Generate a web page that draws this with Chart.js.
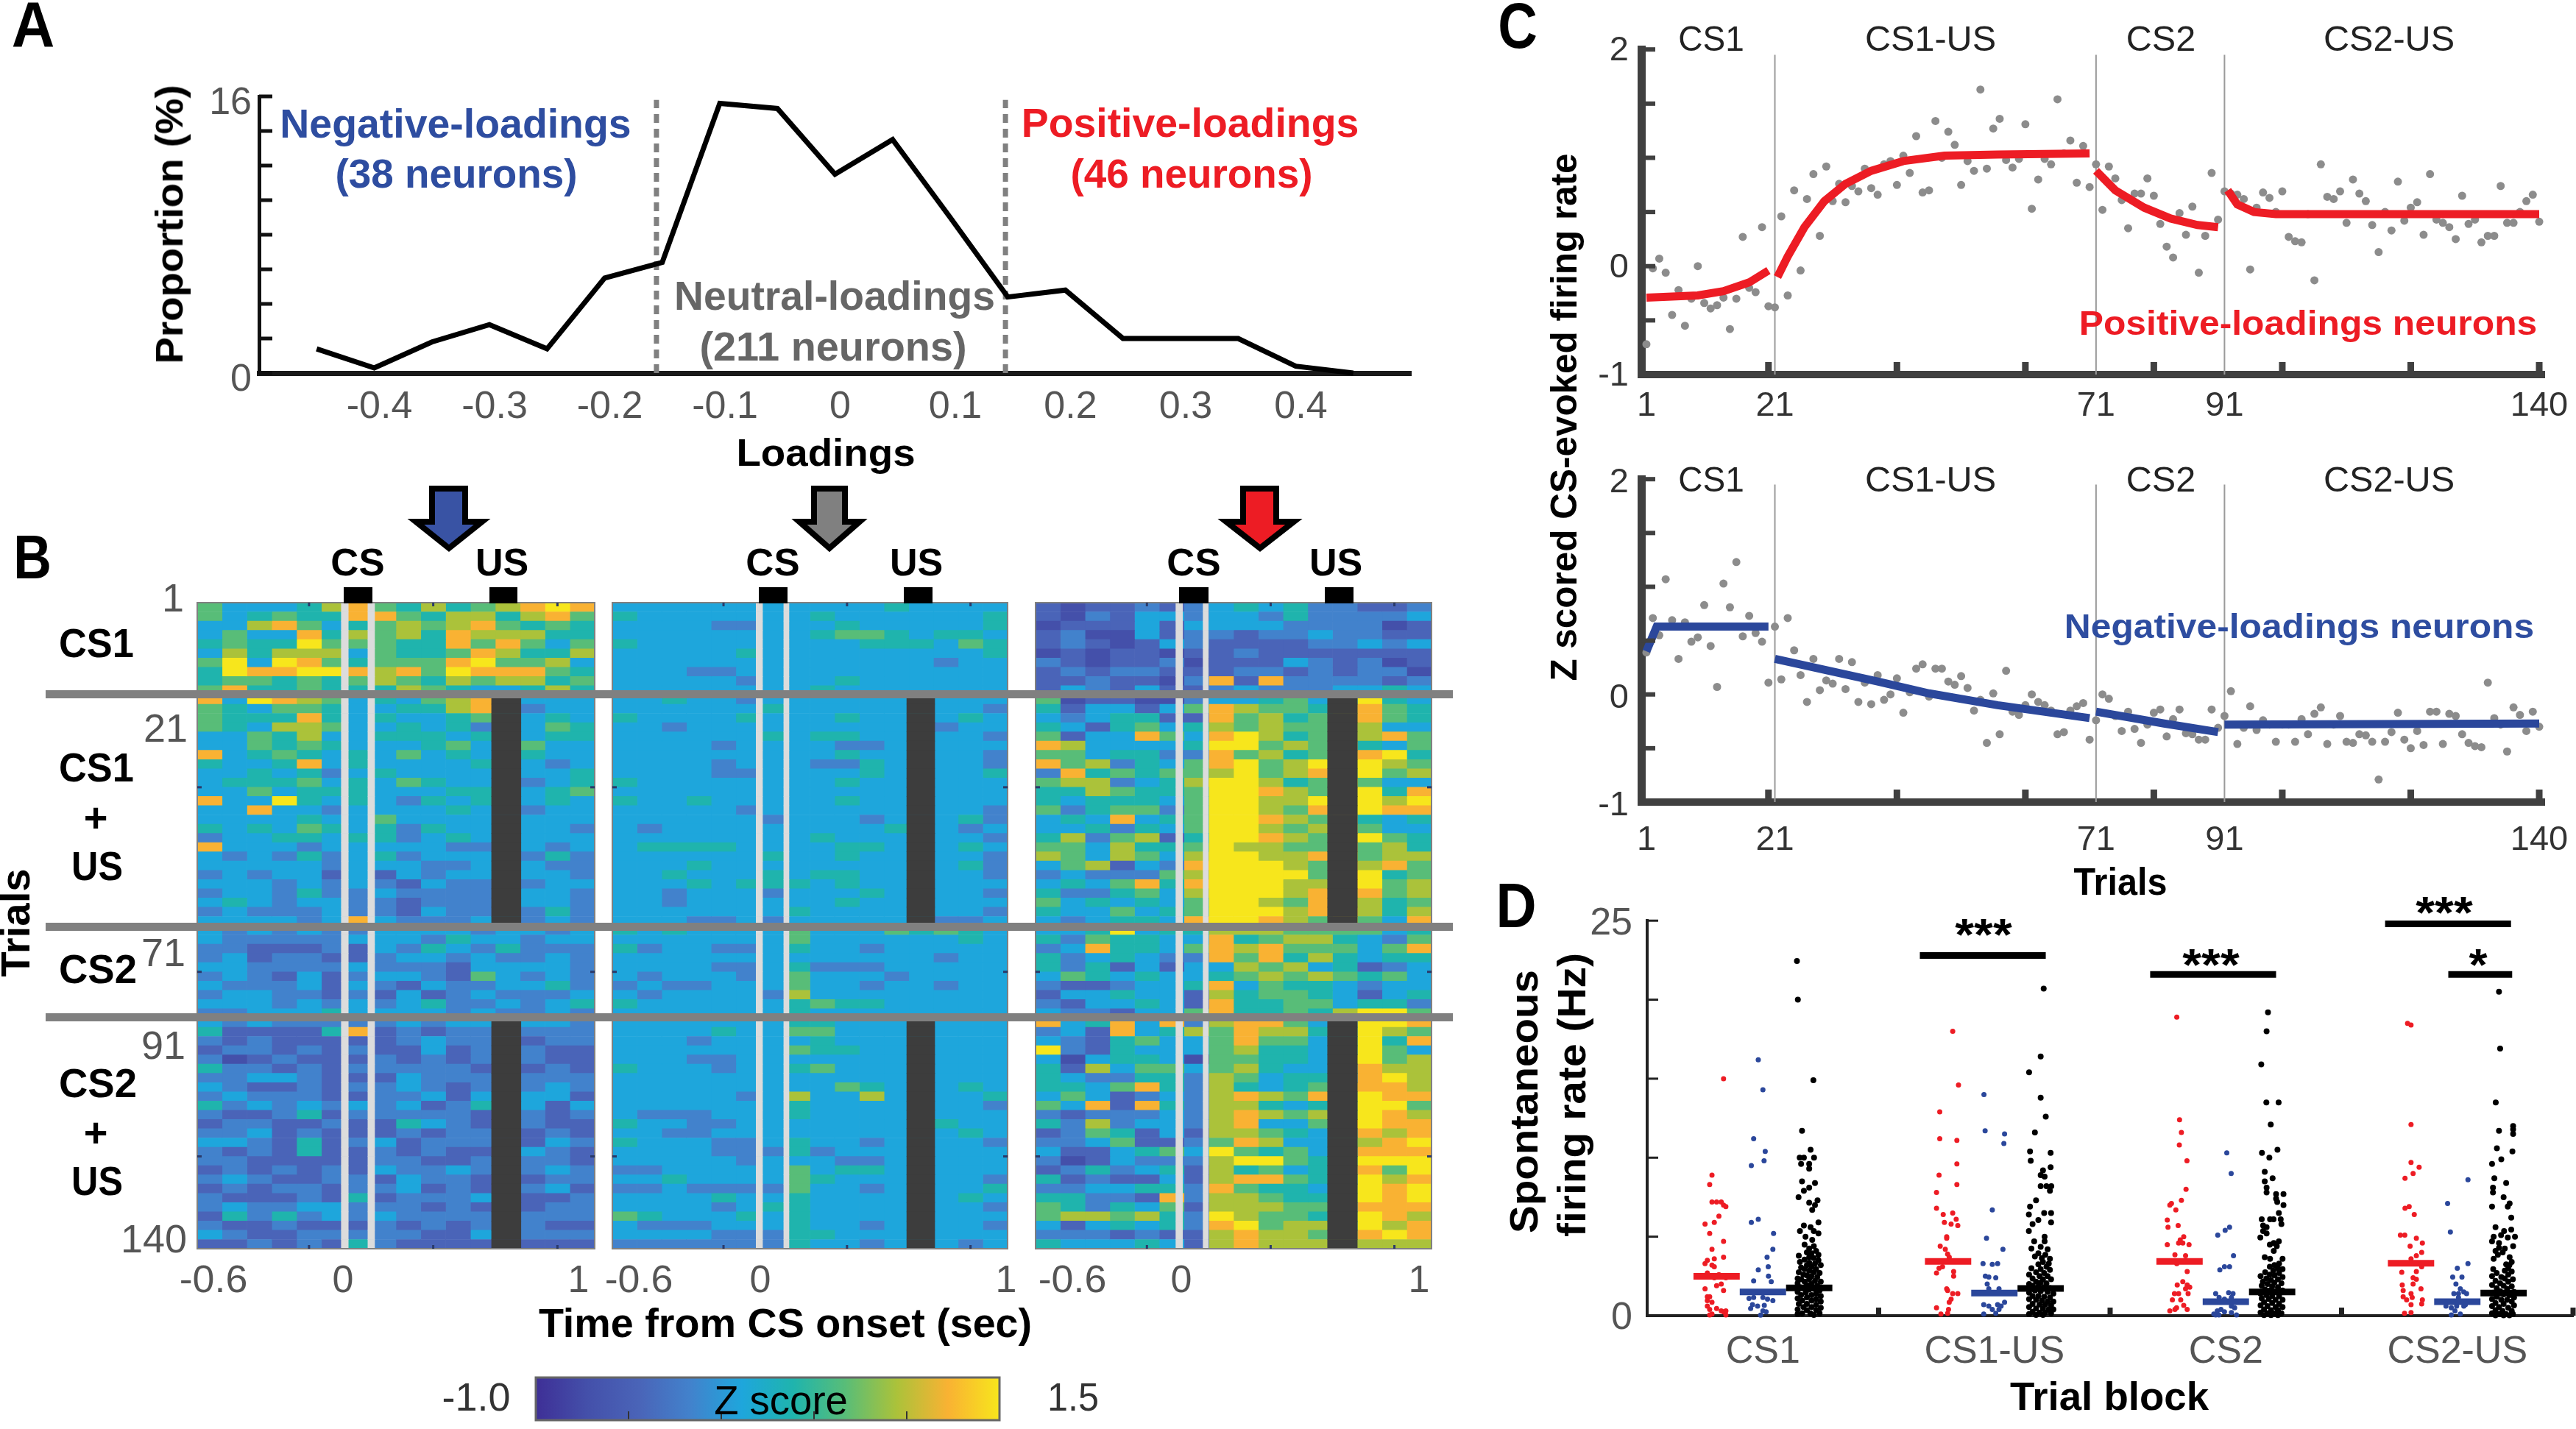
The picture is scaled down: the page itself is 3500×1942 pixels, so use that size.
<!DOCTYPE html>
<html>
<head>
<meta charset="utf-8">
<title>Loadings, trial heatmaps and firing rates</title>
<script src="https://cdn.jsdelivr.net/npm/chart.js@4/dist/chart.umd.min.js"></script>
<style>
  html, body { margin: 0; background: #fff; width: 3500px; height: 1942px; overflow: hidden; position: relative; }
  canvas { position: absolute; }
  .txt { position: absolute; white-space: nowrap; line-height: 1; font-family: "Liberation Sans", Arial, sans-serif; }
  .box { position: absolute; }
  svg { position: absolute; left: 0; top: 0; }
</style>
</head>
<body>
<script>
// Panel A
const loadingBins = [-0.45,-0.4,-0.35,-0.3,-0.25,-0.2,-0.15,-0.1,-0.05,0,0.05,0.1,0.15,0.2,0.25,0.3,0.35,0.4,0.45];
const proportion = [1.4,0.3,1.8,2.8,1.4,5.5,6.4,15.6,15.3,11.5,13.5,9,4.4,4.8,2,2,2,0.4,0];
const loadingTicks = [-0.4,-0.3,-0.2,-0.1,0,0.1,0.2,0.3,0.4];
const loadingCuts = [-0.155,0.148];

// Panel B, one string per two trials, one digit per 0.1 s bin, digit = colour level
const timeBins = [-0.6,-0.5,-0.4,-0.3,-0.2,-0.1,0,0.1,0.2,0.3,0.4,0.5,0.6,0.7,0.8,0.9,1];
const heatNegative = [
"6444578657567898","6456558865775786","4478645676786565","4644857675877755","5655966655868646",
"4757774655687557","6949865666896674","5988998786988865","5665656765767756","6855655576544575",
"8498764546786444","6546654455784344","6555854544565454","6547764454534465","4465744555456455",
"4465654445645644","8456545464544544","5445845444454434","4454534544444445","4555645465445345",
"4464555444554456","8449545435454454","4484434444544344","4444544644444444","5454654535443443",
"3445545534544444","8444344444335434","4343534534444353","4444434443345433","3434424243443443",
"4443434324334344","3443533433334443","4543443323334443","3433343324334353","4444348433344343",
"4343433444434434","4333334443544344","3322232435435333","3423322344343343","4433334333244443",
"3432423443264343","4333424324334453","3443323242343334","4443434345334345","3344454444343343",
"4343333343444443","5222258232333333","3232222234333233","2332323224233322","3123222323232322",
"5332323333323232","3344322243333333","4322323343232343","3433322334243442","5343434342353424",
"3223523333322323","2332232254322322","3342322232333232","4432523423333243","3232522323223432",
"3322222332234332","2323232433433343","3432233243323233","2323323342323342","3222325233343223",
"3433443332323233","2535343433332333","3223222323232322","4322333332243333","2232325322222222"];
const heatNeutral = [
"4444444444454444","5444444454444445","4444334445444445","4444444456654554","5444444444555465",
"4444454444444445","4444444444444344","4443344444444444","4444434445444444","4444444454444444",
"4454434444444444","4444445444444443","5444454445445454","4434444444444344","4444445455444443",
"4444344443344444","4444444445444443","4444344433544443","4444334444544445","5444444445444444",
"4444444444443444","5445444445444444","4444434444445443","4444443444344453","4344444444455434",
"4444444454445443","4555544445544454","4444445445444443","4445444444444453","4454445455444443",
"4445455545444444","4434443444544443","4434444445444444","4444444544444443","4443343444444334",
"5454444644465654","4444444644444454","5344334544344444","4444444444444344","4444334533344444",
"4344434644434444","3433444644344344","4344443744444444","5444444565544444","4444444544444444",
"4444444554444444","4444544664445444","4443444454444444","4444444655444444","4443344444443444",
"5444344564444444","4444444444444444","4444444446544454","4444434744744445","4444444544445443",
"4333444544444444","5443344444445544","4433444444444454","5444334544344443","4444333534444444",
"4444434443344444","3344444645544444","4454444654444443","3343333644344445","4444544544444454",
"4444345544444443","6544454544444444","4333444544344443","4444333554444444","3333333544344434"];
const heatPositive = [
"2122323454533223","2132443443533334","1222424444333312","2311423323343322","2321243222233434",
"1212212232222222","3212231222432312","2323322233232331","2232213828333323","2432422343334454",
"6122113445644954","5244246876657865","4345522867567865","5425645767667744","6244864897567786",
"8744445996768546","6645533867567895","8673546896797976","3856566796786967","6773457997569644",
"5576556998767958","5455546997797979","6356636997687988","4548456998768545","4453546997678644",
"5736725998767965","6647556977668675","7647647997789677","4672438999768786","3433367999968956",
"4546858999778967","5335647999787867","6454546997687756","5446456999788757","4345548998769648",
"4459455777666645","5365544856775436","3485546878666468","5345433868575455","5352424476745234",
"4654544567676564","3223445846554344","2445442756654245","3244542855664553","4332446855657996",
"8458483788644998","3428457687755976","4325644686645958","9325444675545964","4145541665547967",
"5274664675445877","5433553764554897","5546853754567887","4642343787686988","6482853775456996",
"3233343787676987","5373443784468988","2365242776545878","3346223687446789","4224564965645888",
"3124333799655999","2353452756456869","5232242788654978","3344553865546989","5533283776556989",
"6535462777665888","6776753976656987","4245453896775978","3332322787766898","5444542787777777"];
const zLevels = ['#3e2f96','#4450aa','#4a64b8','#4282cc','#1ea6dc','#1fb4ad','#58bd78','#abc23a','#f9b233','#f7e61c'];
const csStrips = [[[-0.02,0.008],[0.087,0.114]],[[-0.018,0.008],[0.094,0.115]],[[-0.033,-0.006],[0.077,0.098]]];
const usBlanks = [[0.585,0.703],[0.592,0.705],[0.58,0.70]];
const zRange = [-1,1.5];
const zMarks = [-0.5,0,0.5,1];
const heatTimeMarks = [-0.15,0.35,0.85];
const heatRowMarks = [19.5,39.5,59.5];  // trials 40, 80, 120 as row positions

// Panel C
const trialTicks = [1,21,71,91,140];
const trialMarks = [20,40,60,80,100,120,140];
const blockEdges = [21,71,91];
const posTrials = [-.72,-.02,.07,-.06,-.45,-.22,-.55,-.30,0,-.34,-.39,-.36,-.29,-.58,-.30,.27,-.2,-.24,.36,-.37,
-.38,.46,-.27,.70,-.04,.62,.85,.28,.92,.60,.76,.59,.74,.69,.90,.72,.66,.94,.97,.75,
1.02,.86,1.20,.68,.70,1.34,1.0,1.24,1.12,.75,.97,.88,1.63,.90,1.27,1.36,.98,.91,.99,1.31,
.53,.80,.99,.94,1.54,1.04,1.16,.77,1.11,.73,.94,.52,.92,.81,.61,.35,.67,.67,.81,.65,
.39,.18,.08,.49,.29,.55,-.06,.28,.86,.43,.69,.67,.66,.62,-.03,.54,.68,.63,.50,.69,
.27,.23,.22,.48,-.13,.94,.64,.62,.69,.40,.80,.67,.60,.38,.13,.50,.33,.78,.42,.54,
.59,.29,.85,.43,.40,.36,.25,.65,.39,.43,.22,.28,.28,.74,.40,.40,.50,.60,.66,.41];
const negTrials = [.39,.71,.55,1.07,.69,.33,.67,.49,.53,.83,.45,.07,1.03,.81,1.23,.54,.73,.57,.49,.11,
.63,.14,.71,.41,.18,-.07,.33,.04,.13,.10,.33,.05,.30,-.07,.11,-.09,.18,-.05,0,.15,
-.17,.02,.24,.28,-.02,.24,.24,.12,.09,.17,.06,-.15,-.05,-.45,.01,-.37,.22,-.16,-.19,-.10,
0,-.07,-.10,-.15,-.37,-.35,-.15,-.11,-.08,-.42,-.24,0,-.04,-.20,-.34,-.16,-.32,-.45,-.28,-.17,
-.14,-.39,-.23,-.14,-.36,-.37,-.42,-.42,-.14,-.31,-.20,.03,-.46,-.31,-.11,-.33,-.24,-.28,-.44,-.28,
-.28,-.44,-.23,-.37,-.18,-.12,-.46,-.28,-.20,-.44,-.45,-.37,-.38,-.44,-.79,-.44,-.35,-.17,-.42,-.50,
-.34,-.47,-.16,-.16,-.46,-.18,-.20,-.37,-.45,-.48,-.49,.11,-.22,-.28,-.53,-.12,-.19,-.34,-.16,-.30];
const posFit = [
  [[1,-.29],[9,-.27],[13,-.23],[17,-.15],[20,-.04]],
  [[21.4,-.10],[23,.09],[25.6,.36],[28.7,.60],[32,.76],[36,.88],[41,.97],[47.4,1.02],[55.7,1.03],[70,1.04]],
  [[71,.88],[74,.70],[78.5,.54],[82.6,.44],[86.8,.38],[90,.36]],
  [[91.5,.70],[93,.57],[95.6,.50],[99,.48],[140,.48]]];
const negFit = [
  [[1,.40],[2.6,.63],[20,.63]],
  [[21,.33],[37,.12],[45,.01],[55.7,-.10],[70,-.22]],
  [[71,-.16],[81.6,-.27],[90,-.35]],
  [[91,-.28],[140,-.27]]];

// Panel D
const blockNames = ['CS1','CS1-US','CS2','CS2-US'];
const blockCentres = [0.5,1.5,2.5,3.5];
const meanPositive = [2.49,3.43,3.43,3.32];
const meanNegative = [1.5,1.43,.88,.88];
const meanNeutral = [1.76,1.72,1.5,1.43];
const sigBars = [[1.178,1.722,22.8],[2.173,2.717,21.6],[3.188,3.732,24.8],[3.461,3.737,21.6]];
const ratesPositive = [
[.28,8.9],[.27,8.3],[.28,7.2],[.30,7.2],[.32,7.2],[.33,7.0],[.34,6.9],[.31,6.3],[.25,5.8],[.29,5.9],[.27,5.2],[.33,4.7],[.28,4.2],[.33,3.7],[.29,3.6],[.26,3.5],[.25,3.3],[.28,3.2],[.29,3.1],[.33,15],[.26,2.7],[.31,2.6],[.36,2.5],[.23,2.5],[.29,2.4],[.34,2.4],[.32,2],[.30,1.9],[.33,1.6],[.25,1.7],[.26,1.2],[.27,1.2],[.26,.95],[.28,.85],[.26,.6],[.27,.4],[.30,.45],[.32,.3],[.34,.3],[.28,.1],[.27,.05],[.34,.05],[.33,.25],
[1.32,18],[1.345,14.6],[1.264,12.9],[1.264,11.2],[1.338,11.1],[1.338,9.6],[1.261,8.9],[1.338,8.3],[1.25,7.8],[1.25,6.8],[1.279,6.4],[1.32,6.5],[1.335,6.1],[1.284,5.9],[1.313,5.8],[1.342,5.7],[1.294,5],[1.294,4.9],[1.266,4.4],[1.288,4.2],[1.298,3.9],[1.305,3.7],[1.276,3.1],[1.261,3],[1.25,2.7],[1.324,2.8],[1.324,2.5],[1.294,1.7],[1.298,1.6],[1.342,1.4],[1.32,1.4],[1.313,1.05],[1.305,.85],[1.25,.5],[1.302,.4],[1.269,.1],[1.298,.15],
[2.288,18.9],[2.30,12.4],[2.308,11.6],[2.299,10.8],[2.332,9.8],[2.328,8],[2.308,7.3],[2.265,7.1],[2.258,7],[2.284,6.7],[2.247,6.05],[2.25,5.6],[2.294,5.7],[2.318,5],[2.303,4.8],[2.296,4.6],[2.314,4.6],[2.341,4.5],[2.247,4.5],[2.28,3.85],[2.326,3.8],[2.288,3.3],[2.333,2.8],[2.314,2.15],[2.333,1.95],[2.29,1.95],[2.344,1.8],[2.326,1.7],[2.278,1.4],[2.296,1.4],[2.337,1.4],[2.269,1],[2.305,1],[2.287,.5],[2.318,.65],[2.333,.4],[2.258,.3],[2.28,.4],
[3.285,18.5],[3.30,18.4],[3.30,12.1],[3.30,9.7],[3.335,9.4],[3.309,9],[3.274,8.7],[3.292,6.9],[3.274,6.8],[3.314,6.4],[3.254,5.1],[3.273,5.1],[3.323,4.9],[3.349,4.6],[3.296,4.4],[3.346,4],[3.323,3.8],[3.30,3.6],[3.26,2.75],[3.309,2.4],[3.323,2.3],[3.309,2],[3.262,1.95],[3.266,1.6],[3.343,1.7],[3.30,1.4],[3.349,1],[3.305,1.15],[3.266,1.2],[3.281,1],[3.30,.7],[3.346,.75],[3.272,.15],[3.30,.2],[3.346,3.1],[3.323,2.8]];
const ratesNegative = [
[.48,16.2],[.50,14.3],[.46,11.2],[.51,10.4],[.505,9.8],[.45,9.5],[.48,6.1],[.45,5.9],[.546,5.2],[.543,4.2],[.518,3.7],[.523,3.1],[.48,2.9],[.524,2.5],[.46,2.2],[.536,2.15],[.44,1.1],[.46,1.15],[.50,1.15],[.52,1.05],[.543,.95],[.455,.7],[.477,.6],[.506,.65],[.447,.45],[.50,.3],[.49,.03],[.514,.25],
[1.455,14],[1.46,11.7],[1.544,11.5],[1.541,10.9],[1.491,6.7],[1.466,4.9],[1.537,4.2],[1.451,3.3],[1.491,3.25],[1.514,3.3],[1.461,2.5],[1.476,2.45],[1.506,2.4],[1.469,2],[1.476,1.7],[1.52,1.7],[1.454,.7],[1.476,.6],[1.514,.7],[1.544,.85],[1.491,.4],[1.52,.4],[1.454,.1],[1.506,.15],[1.529,.6],
[2.504,10.3],[2.523,9],[2.516,5.6],[2.497,5.4],[2.465,5.1],[2.533,3.8],[2.516,3.1],[2.494,3.1],[2.474,2.9],[2.456,1.4],[2.512,1.45],[2.531,1.4],[2.471,1.15],[2.524,1.15],[2.494,1.05],[2.538,.5],[2.524,.2],[2.448,.1],[2.463,.3],[2.479,.4],[2.546,.05],[2.456,.05],[2.47,.05],[2.494,.25],[2.524,.6],
[3.546,8.6],[3.458,7.1],[3.47,5.3],[3.546,3.3],[3.5,3],[3.48,2.45],[3.52,2.45],[3.494,2],[3.513,1.7],[3.485,1.4],[3.528,1.5],[3.54,1.4],[3.505,1.4],[3.505,1.15],[3.451,.6],[3.474,.5],[3.497,.6],[3.528,.6],[3.49,.3],[3.513,.1],[3.474,.05],[3.535,.7]];
const ratesNeutral = [
[.647,22.45],[.651,20],[.718,14.9],[.669,11.7],[.706,10.5],[.659,10],[.677,10],[.721,10],[.665,9.6],[.70,9.6],[.70,9.3],[.669,8.5],[.725,8.4],[.70,8.1],[.677,7.9],[.654,7.5],[.736,7.3],[.70,7.15],[.725,7],[.713,6.7],[.74,5.9],[.677,5.7],[.706,5.6],[.72,5.35],[.66,5.35],[.74,5.2],[.684,5],[.713,4.8],
[.68,4.5],[.72,4.4],[.70,4.25],[.73,4.1],[.69,4],[.71,3.95],[.74,3.85],[.655,3.8],[.70,3.7],[.72,3.65],[.68,3.55],[.74,3.5],[.66,3.4],[.70,3.35],[.725,3.3],[.69,3.2],[.75,3.2],[.71,3.1],[.665,3.05],[.68,2.95],[.73,2.95],[.70,2.85],[.655,2.75],[.72,2.75],[.745,2.7],[.675,2.6],[.69,2.55],[.71,2.5],[.735,2.45],[.65,2.35],[.665,2.3],[.70,2.3],[.725,2.2],[.68,2.15],[.75,2.15],[.65,2.05],[.71,2],[.69,1.95],[.735,1.9],[.66,1.8],[.675,1.75],[.72,1.7],[.70,1.65],[.745,1.6],[.65,1.5],[.685,1.45],[.73,1.4],[.665,1.3],[.71,1.3],[.75,1.25],[.69,1.15],[.65,1.1],[.73,1.05],[.67,.95],[.71,.95],[.75,.9],[.655,.75],[.69,.75],[.73,.7],[.675,.55],[.71,.55],[.75,.5],[.65,.4],[.69,.35],[.73,.35],[.67,.15],[.705,.15],[.745,.15],[.65,.1],[.72,.05],
[1.713,20.7],[1.70,16.4],[1.65,15.4],[1.70,13.8],[1.722,12.6],[1.675,11.6],[1.654,10.4],[1.743,10.3],[1.657,9.8],[1.743,9.4],[1.71,9.2],[1.717,8.8],[1.70,8.9],[1.725,8.2],[1.70,8.2],[1.746,8.2],[1.74,7.9],[1.68,7.3],[1.654,6.9],[1.715,6.5],[1.745,6.5],[1.649,6.4],[1.69,6.05],[1.745,5.9],[1.665,5.8],[1.649,5.35],[1.717,5],[1.672,4.7],[1.717,4.7],
[1.66,4.25],[1.70,4.35],[1.73,4.2],[1.69,3.95],[1.72,3.85],[1.675,3.75],[1.705,3.65],[1.74,3.6],[1.71,3.4],[1.735,3.3],[1.69,3.25],[1.725,3.1],[1.66,3],[1.70,2.95],[1.74,2.9],[1.68,2.75],[1.715,2.7],[1.65,2.6],[1.695,2.5],[1.73,2.5],[1.665,2.35],[1.71,2.3],[1.745,2.3],[1.68,2.15],[1.70,2.1],[1.725,2.05],[1.65,2],[1.665,1.9],[1.69,1.85],[1.715,1.8],[1.74,1.75],[1.675,1.6],[1.70,1.55],[1.73,1.5],[1.65,1.45],[1.755,1.4],[1.665,1.25],[1.69,1.25],[1.715,1.2],[1.74,1.15],[1.65,1.05],[1.68,1],[1.705,.95],[1.73,.9],[1.755,.9],[1.665,.75],[1.695,.7],[1.72,.7],[1.745,.65],[1.65,.55],[1.68,.45],[1.71,.45],[1.735,.4],[1.755,.4],[1.665,.25],[1.695,.2],[1.72,.2],[1.745,.15],[1.65,.1],[1.68,.05],[1.71,.05],
[2.682,19.2],[2.676,18],[2.653,15.9],[2.675,13.5],[2.728,13.5],[2.694,12.1],[2.723,10.5],[2.656,10.3],[2.688,10],[2.668,9.1],[2.702,8.7],[2.668,8.5],[2.676,8.1],[2.676,7.8],[2.717,7.7],[2.749,7.7],[2.717,7.4],[2.722,7.2],[2.749,7],[2.729,6.5],[2.655,6.1],[2.691,6.1],[2.706,6.1],[2.737,6.1],[2.74,5.8],[2.661,5.7],[2.676,5.6],[2.661,5.35],[2.676,5.2],[2.649,4.95],[2.729,4.7],[2.707,4.6],[2.69,4.5],[2.72,4.4],[2.707,4.1],[2.668,3.7],[2.691,3.6],[2.745,3.6],
[2.73,3.3],[2.71,3.2],[2.69,3.1],[2.725,3],[2.745,2.95],[2.705,2.85],[2.67,2.75],[2.73,2.7],[2.69,2.6],[2.71,2.55],[2.65,2.5],[2.745,2.45],[2.675,2.35],[2.725,2.3],[2.695,2.25],[2.66,2.15],[2.71,2.1],[2.74,2.05],[2.68,2],[2.655,1.9],[2.70,1.85],[2.725,1.8],[2.67,1.65],[2.69,1.6],[2.745,1.6],[2.715,1.5],[2.65,1.4],[2.675,1.3],[2.70,1.25],[2.73,1.25],[2.655,1.1],[2.685,1.05],[2.715,1],[2.745,1],[2.665,.85],[2.70,.8],[2.73,.75],[2.65,.65],[2.68,.6],[2.715,.55],[2.745,.55],[2.665,.4],[2.695,.35],[2.725,.35],[2.65,.2],[2.68,.15],[2.71,.15],[2.74,.15],[2.665,.03],[2.695,.03],[2.725,.03],
[3.68,20.5],[3.685,16.9],[3.666,13.5],[3.741,12],[3.741,11.8],[3.68,11.7],[3.741,11.5],[3.671,10.6],[3.738,10.4],[3.69,9.9],[3.65,9.6],[3.66,8.7],[3.711,8.4],[3.654,8.1],[3.654,7.8],[3.70,7.5],[3.726,7.1],[3.65,6.9],[3.718,6.9],[3.733,6.2],[3.665,5.6],[3.733,5.45],[3.702,5.35],[3.657,5],[3.689,5.1],[3.718,4.95],[3.749,5],[3.65,4.7],[3.68,4.6],[3.741,4.4],[3.665,4.1],[3.696,4],[3.657,3.6],[3.726,3.7],[3.711,3.25],
[3.68,4.3],[3.705,4.25],[3.675,3.85],[3.735,3.4],[3.725,3.2],[3.72,3],[3.655,2.95],[3.705,2.85],[3.735,2.8],[3.67,2.7],[3.72,2.6],[3.65,2.5],[3.69,2.45],[3.705,2.35],[3.74,2.3],[3.665,2.2],[3.72,2.15],[3.685,2.05],[3.65,1.95],[3.70,1.9],[3.735,1.85],[3.67,1.75],[3.715,1.7],[3.685,1.55],[3.745,1.5],[3.655,1.45],[3.70,1.35],[3.725,1.3],[3.67,1.2],[3.745,1.15],[3.65,1.05],[3.69,1],[3.715,1],[3.735,.9],[3.665,.8],[3.70,.75],[3.745,.65],[3.65,.6],[3.68,.55],[3.72,.5],[3.665,.35],[3.695,.3],[3.735,.3],[3.65,.15],[3.68,.1],[3.71,.1],[3.74,.1],[3.665,.02],[3.70,.02],[3.725,.02]];

// small helpers -------------------------------------------------
const FONT = '"Liberation Sans", Arial, sans-serif';

function label(text, cx, cy, o) {
    o = o || {};
    let el = document.createElement('div');
    el.className = 'txt';
    el.textContent = text;
    el.style.left = cx + 'px';
    el.style.top = cy + 'px';
    el.style.fontSize = (o.size || 50) + 'px';
    el.style.fontWeight = o.bold ? 'bold' : 'normal';
    el.style.color = o.color || '#000';
    document.body.appendChild(el);
    let sx = o.w ? o.w / el.offsetWidth : 1;
    el.style.transform = `translate(-50%,-50%) rotate(${o.rot || 0}deg) scaleX(${sx})`;
    return el;
}

function box(x0, y0, x1, y1, color) {
    let el = document.createElement('div');
    el.className = 'box';
    el.style.cssText = `left:${x0}px;top:${y0}px;width:${x1 - x0}px;height:${y1 - y0}px;background:${color}`;
    document.body.appendChild(el);
}

// canvas whose chart area lands exactly on the given rectangle
function place(l, t, r, b, m) {
    let c = document.createElement('canvas');
    c.width = r - l + m.left + m.right;
    c.height = b - t + m.top + m.bottom;
    c.style.left = (l - m.left) + 'px';
    c.style.top = (t - m.top) + 'px';
    document.body.appendChild(c);
    return c;
}

const axisMarks = {
    id: 'axisMarks',
    afterDatasetsDraw(chart, args, o) {
        let ctx = chart.ctx, a = chart.chartArea;
        ctx.save();
        ctx.fillStyle = o.color || '#000';
        (o.x || []).forEach(v => {
            let p = chart.scales.x.getPixelForValue(v);
            ctx.fillRect(p - o.xw / 2, a.bottom - o.xlen, o.xw, o.xlen);
        });
        (o.y || []).forEach(v => {
            let p = chart.scales.y.getPixelForValue(v);
            ctx.fillRect(a.left, p - o.yw / 2, o.ylen, o.yw);
        });
        if (o.frame) {
            ctx.strokeStyle = o.frame;
            ctx.lineWidth = o.frameWidth || 2;
            ctx.strokeRect(a.left, a.top, a.right - a.left, a.bottom - a.top);
        }
        // tiny marks on all four sides of the heatmaps
        ctx.fillStyle = '#2a3a6a';
        (o.edgeX || []).forEach(v => {
            let p = chart.scales.x.getPixelForValue(v);
            ctx.fillRect(p - 1.5, a.top, 3, 5);
            ctx.fillRect(p - 1.5, a.bottom - 5, 3, 5);
        });
        (o.edgeY || []).forEach(v => {
            let p = chart.scales.y.getPixelForValue(v);
            ctx.fillRect(a.left, p - 1.5, 6, 3);
            ctx.fillRect(a.right - 6, p - 1.5, 6, 3);
        });
        ctx.restore();
    }
};
Chart.register(axisMarks);
Chart.defaults.font.family = FONT;
Chart.defaults.animation = false;

// the y axis box fills the left margin and the x axis box the bottom margin
function baseOptions(m, marks) {
    return {
        responsive: false,
        animation: false,
        events: [],
        layout: { padding: { left: 0, bottom: 0, top: m.top, right: m.right } },
        plugins: { legend: { display: false }, tooltip: { enabled: false }, axisMarks: marks || {} }
    };
}

function pts(pairs) { return pairs.map(p => ({ x: p[0], y: p[1] })); }

function lineSet(data, color, width, dash) {
    return { data: data, showLine: true, borderColor: color, borderWidth: width, borderDash: dash || [],
             pointRadius: 0, tension: 0, clip: false, borderCapStyle: 'butt', fill: false };
}

function dotSet(data, color, r) {
    return { data: data, showLine: false, backgroundColor: color, pointRadius: r, pointBorderWidth: 0, clip: false };
}

// Panel A -------------------------------------------------------
(function () {
    let m = { left: 152, right: 60, top: 50, bottom: 90 };
    let c = place(352, 131, 1917, 507, m);
    let ds = [lineSet(loadingBins.map((x, i) => ({ x: x, y: proportion[i] })), '#000', 7)];
    loadingCuts.forEach(v => ds.push(lineSet([{ x: v, y: 0 }, { x: v, y: 15.8 }], '#808080', 7, [12, 8])));
    let opt = baseOptions(m, { y: [0,2,4,6,8,10,12,14,16], ylen: 18, yw: 5, color: '#111' });
    opt.scales = {
        x: { type: 'linear', min: -0.5, max: 0.5, afterFit: s => { s.height = m.bottom; },
             afterBuildTicks: s => { s.ticks = loadingTicks.map(v => ({ value: v })); },
             grid: { display: false, drawTicks: false }, border: { display: true, color: '#1a1a1a', width: 7 },
             ticks: { padding: 15, labelOffset: 7, maxRotation: 0, autoSkip: false, color: '#555', font: { size: 52 }, callback: v => String(v) } },
        y: { min: 0, max: 16, afterFit: s => { s.width = m.left; },
             afterBuildTicks: s => { s.ticks = [0, 16].map(v => ({ value: v })); },
             grid: { display: false, drawTicks: false }, border: { display: true, color: '#111', width: 5 },
             ticks: { padding: 10, labelOffset: 10, color: '#555', font: { size: 52 } } }
    };
    new Chart(c, { type: 'scatter', data: { datasets: ds }, options: opt });
})();

// Panel B -------------------------------------------------------
const heatPanels = [
    { rows: heatNegative, l: 268, r: 808 },
    { rows: heatNeutral, l: 832, r: 1369 },
    { rows: heatPositive, l: 1407, r: 1945 }
];
const rowLabels = heatNegative.map((_, i) => i * 2 + 1);

heatPanels.forEach((p, k) => {
    let m = { left: 2, right: 2, top: 2, bottom: 2 };
    let c = place(p.l, 819, p.r, 1697, m);
    let common = { grouped: false, barPercentage: 1, categoryPercentage: 1, borderWidth: 0 };
    let ds = [];
    // CS edges and the masked US window sit on top of the cells
    csStrips[k].forEach(s => ds.push(Object.assign({ data: p.rows.map(() => s), backgroundColor: '#dcdcdc' }, common)));
    ds.push(Object.assign({
        data: p.rows.map((_, i) => ((i >= 10 && i < 35) || i >= 45) ? usBlanks[k] : null),
        backgroundColor: '#3d3d3d'
    }, common));
    for (let b = 0; b < timeBins.length - 1; b++) {
        ds.push(Object.assign({
            data: p.rows.map(() => [timeBins[b], timeBins[b + 1]]),
            backgroundColor: p.rows.map(r => zLevels[+r[b]])
        }, common));
    }
    let opt = baseOptions(m, { frame: '#808080', frameWidth: 2, edgeX: heatTimeMarks, edgeY: heatRowMarks });
    opt.indexAxis = 'y';
    opt.scales = {
        x: { type: 'linear', min: timeBins[0], max: timeBins[timeBins.length - 1], afterFit: s => { s.height = m.bottom; },
             grid: { display: false, drawTicks: false }, border: { display: false }, ticks: { display: false } },
        y: { type: 'category', offset: true, afterFit: s => { s.width = m.left; },
             grid: { display: false, drawTicks: false }, border: { display: false }, ticks: { display: false } }
    };
    new Chart(c, { type: 'bar', data: { labels: rowLabels, datasets: ds }, options: opt });
});

// colour bar
(function () {
    let m = { left: 2, right: 2, top: 2, bottom: 2 };
    let c = place(728, 1872, 1358, 1930, m);
    let ctx = c.getContext('2d');
    let g = ctx.createLinearGradient(m.left, 0, c.width - m.right, 0);
    zLevels.forEach((col, i) => g.addColorStop(i / (zLevels.length - 1), col));
    let opt = baseOptions(m, { x: zMarks, xw: 2, xlen: 12, color: '#333', frame: '#666', frameWidth: 3 });
    opt.indexAxis = 'y';
    opt.scales = {
        x: { type: 'linear', min: zRange[0], max: zRange[1], afterFit: s => { s.height = m.bottom; },
             grid: { display: false, drawTicks: false }, border: { display: false }, ticks: { display: false } },
        y: { type: 'category', offset: true, afterFit: s => { s.width = m.left; },
             grid: { display: false, drawTicks: false }, border: { display: false }, ticks: { display: false } }
    };
    new Chart(c, { type: 'bar', data: { labels: ['Z score'], datasets: [{
        data: [zRange], backgroundColor: g, barPercentage: 1, categoryPercentage: 1, borderWidth: 0 }] }, options: opt });
})();

// Panel C -------------------------------------------------------
function trialChart(top, bottom, trials, fit, color, tickPad, yOffset) {
    let m = { left: 60, right: 43, top: 40, bottom: 70 };
    let c = place(2230, top, 3457, bottom, { left: m.left, right: 70, top: m.top, bottom: m.bottom });
    m.right = 70;
    let ds = fit.map(seg => lineSet(pts(seg), color, 11));
    ds.push(dotSet(trials.map((v, i) => ({ x: i + 1, y: v })), '#8c8c8c', 5.5));
    blockEdges.forEach(v => ds.push(lineSet([{ x: v, y: -1 }, { x: v, y: 1.95 }], '#9a9a9a', 2)));
    let opt = baseOptions(m, { x: trialMarks, xw: 9, xlen: 17, y: [-0.5,0,0.5,1,1.5,2], yw: 6, ylen: 19, color: '#404040' });
    opt.scales = {
        x: { type: 'linear', min: 0.2, max: 140.8, afterFit: s => { s.height = m.bottom; },
             afterBuildTicks: s => { s.ticks = trialTicks.map(v => ({ value: v })); },
             grid: { display: false, drawTicks: false }, border: { display: true, color: '#404040', width: 10 },
             ticks: { padding: tickPad, maxRotation: 0, autoSkip: false, color: '#333', font: { size: 47 } } },
        y: { min: -1, max: 2, afterFit: s => { s.width = m.left; },
             afterBuildTicks: s => { s.ticks = [-1, 0, 2].map(v => ({ value: v })); },
             grid: { display: false, drawTicks: false }, border: { display: true, color: '#404040', width: 11 },
             ticks: { padding: 17, labelOffset: yOffset, color: '#333', font: { size: 47 } } }
    };
    new Chart(c, { type: 'scatter', data: { datasets: ds }, options: opt });
}
trialChart(62, 509, posTrials, posFit, '#ed1c24', 15, 2);
trialChart(646, 1090, negTrials, negFit, '#2b479b', 24, 5);

// Panel D -------------------------------------------------------
(function () {
    let m = { left: 100, right: 4, top: 50, bottom: 70 };
    let c = place(2238, 1250, 3496, 1788, m);
    let ds = [];
    sigBars.forEach(s => ds.push(lineSet([{ x: s[0], y: s[2] }, { x: s[1], y: s[2] }], '#000', 9)));
    let mean = (vals, off, col) => vals.forEach((v, i) => ds.push(lineSet(
        [{ x: blockCentres[i] + off - 0.1, y: v }, { x: blockCentres[i] + off + 0.1, y: v }], col, 9)));
    mean(meanNeutral, 0.2, '#000');
    mean(meanNegative, 0, '#2b479b');
    mean(meanPositive, -0.2, '#ed1c24');
    ds.push(dotSet(pts(ratesPositive), '#ed1c24', 3.5));
    ds.push(dotSet(pts(ratesNegative), '#2b479b', 3.5));
    ds.push(dotSet(pts(ratesNeutral), '#000', 4));
    let opt = baseOptions(m, { x: [1,2,3,4], xw: 7, xlen: 11, y: [5,10,15,20,25], yw: 3, ylen: 15, color: '#222' });
    opt.scales = {
        x: { type: 'linear', min: 0, max: 4, afterFit: s => { s.height = m.bottom; },
             afterBuildTicks: s => { s.ticks = blockCentres.map(v => ({ value: v })); },
             grid: { display: false, drawTicks: false }, border: { display: true, color: '#222', width: 4 },
             ticks: { padding: 18, maxRotation: 0, autoSkip: false, color: '#555', font: { size: 52 },
                       callback: v => blockNames[blockCentres.indexOf(v)] } },
        y: { min: 0, max: 25, afterFit: s => { s.width = m.left; },
             afterBuildTicks: s => { s.ticks = [0, 25].map(v => ({ value: v })); },
             grid: { display: false, drawTicks: false }, border: { display: true, color: '#222', width: 4 },
             ticks: { padding: 20, labelOffset: 4, color: '#555', font: { size: 52 } } }
    };
    new Chart(c, { type: 'scatter', data: { datasets: ds }, options: opt });
})();

// Text and furniture -----------------------------------------------
const BLUE = '#2e4da0', RED = '#ed1c24', GREY = '#666';
label('A', 45, 33, { size: 88, bold: true, w: 59 });
label('B', 44, 757, { size: 84, bold: true, w: 52 });
label('C', 2062, 35, { size: 88, bold: true, w: 54 });
label('D', 2060, 1230, { size: 86, bold: true, w: 55 });

label('Proportion (%)', 230, 305, { size: 52, bold: true, w: 379, rot: -90 });
label('Loadings', 1122, 615, { size: 52, bold: true, w: 243 });
label('Negative-loadings', 619, 168, { size: 56, bold: true, color: BLUE, w: 477 });
label('(38 neurons)', 620, 236, { size: 56, bold: true, color: BLUE, w: 329 });
label('Positive-loadings', 1617, 167, { size: 56, bold: true, color: RED, w: 459 });
label('(46 neurons)', 1619, 236, { size: 56, bold: true, color: RED, w: 329 });
label('Neutral-loadings', 1134, 402, { size: 56, bold: true, color: GREY, w: 436 });
label('(211 neurons)', 1132, 471, { size: 56, bold: true, color: GREY, w: 363 });

// separators across the heatmaps
[943, 1259, 1382].forEach(y => box(62, y - 5, 1974, y + 6, '#808080'));

// stimulus bars and their names
[[467,506,665,703,486,682],[1031,1070,1228,1267,1050,1245],[1602,1642,1800,1839,1622,1815]].forEach(a => {
    box(a[0], 798, a[1], 820, '#000');
    box(a[2], 798, a[3], 820, '#000');
    label('CS', a[4], 764, { size: 52, bold: true, w: 73 });
    label('US', a[5], 764, { size: 52, bold: true, w: 72 });
});

label('CS1', 131, 874, { size: 56, bold: true, w: 102 });
label('CS1', 131, 1043, { size: 56, bold: true, w: 102 });
label('+', 130, 1111, { size: 56, bold: true });
label('US', 132, 1177, { size: 56, bold: true, w: 70 });
label('CS2', 133, 1317, { size: 56, bold: true, w: 106 });
label('CS2', 133, 1472, { size: 56, bold: true, w: 106 });
label('+', 130, 1539, { size: 56, bold: true });
label('US', 132, 1605, { size: 56, bold: true, w: 70 });
label('Trials', 21, 1254, { size: 56, bold: true, w: 147, rot: -90 });
[['1',235,812],['21',225,989],['71',222,1294],['91',222,1420],['140',209,1683]].forEach(a =>
    label(a[0], a[1], a[2], { size: 54, color: '#555' }));
[[290,466,786],[868,1033,1367],[1457,1605,1928]].forEach(a => {
    label('-0.6', a[0], 1738, { size: 52, color: '#555', w: 93 });
    label('0', a[1], 1738, { size: 52, color: '#555' });
    label('1', a[2], 1738, { size: 52, color: '#555' });
});
label('Time from CS onset (sec)', 1067, 1798, { size: 56, bold: true, w: 670 });
label('-1.0', 647, 1898, { size: 54, color: '#333', w: 93 });
label('1.5', 1458, 1898, { size: 54, color: '#333', w: 70 });
label('Z score', 1061, 1903, { size: 56, color: '#000', w: 182 });

// arrows above the heatmaps
(function () {
    const NS = 'http://www.w3.org/2000/svg';
    let svg = document.createElementNS(NS, 'svg');
    svg.setAttribute('width', 3500);
    svg.setAttribute('height', 1942);
    [[565,587,632,655,610,'#3953a4'],[1086,1106,1148,1168,1127,'#808080'],[1666,1689,1734,1758,1712,'#ed1c24']].forEach(a => {
        let p = document.createElementNS(NS, 'polygon');
        let top = 664, neck = 709, tip = 745;
        p.setAttribute('points', `${a[1]},${top} ${a[2]},${top} ${a[2]},${neck} ${a[3]},${neck} ${a[4]},${tip} ${a[0]},${neck} ${a[1]},${neck}`);
        p.setAttribute('fill', a[5]);
        p.setAttribute('stroke', '#000');
        p.setAttribute('stroke-width', 8);
        svg.appendChild(p);
    });
    document.body.appendChild(svg);
})();

[53, 652].forEach(y => {
    label('CS1', 2325, y, { size: 48, color: '#222', w: 89 });
    label('CS1-US', 2623, y, { size: 48, color: '#222', w: 178 });
    label('CS2', 2936, y, { size: 48, color: '#222', w: 94 });
    label('CS2-US', 3246, y, { size: 48, color: '#222', w: 178 });
});
label('Positive-loadings neurons', 3136, 438, { size: 47, bold: true, color: RED, w: 623 });
label('Negative-loadings neurons', 3124, 850, { size: 47, bold: true, color: BLUE, w: 638 });
label('Z scored CS-evoked firing rate', 2125, 567, { size: 50, bold: true, w: 717, rot: -90 });
label('Trials', 2881, 1198, { size: 52, bold: true, w: 127 });

label('Spontaneous', 2070, 1497, { size: 54, bold: true, w: 358, rot: -90 });
label('firing rate (Hz)', 2135, 1488, { size: 54, bold: true, w: 386, rot: -90 });
label('Trial block', 2866, 1897, { size: 54, bold: true, w: 270 });
label('***', 2695, 1270, { size: 62, bold: true, w: 77 });
label('***', 3004, 1311, { size: 62, bold: true, w: 77 });
label('***', 3321, 1240, { size: 62, bold: true, w: 77 });
label('*', 3367, 1311, { size: 62, bold: true, w: 25 });
</script>
</body>
</html>
